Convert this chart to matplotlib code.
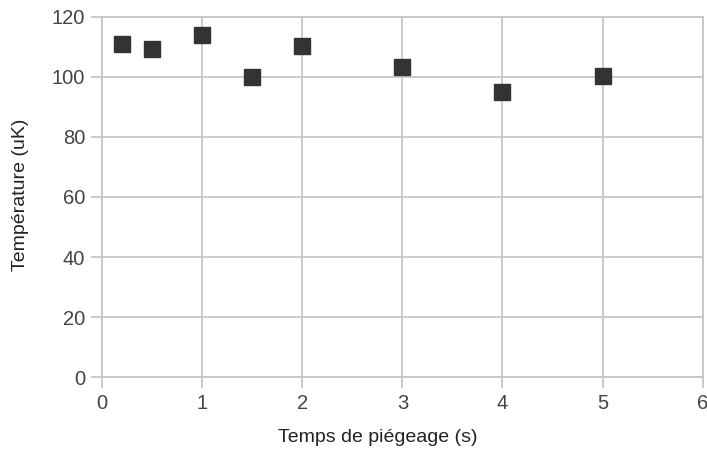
import matplotlib
matplotlib.use("Agg")
import matplotlib.pyplot as plt

plt.rcParams['font.family'] = ['Liberation Sans', 'DejaVu Sans']

temps = [0.2, 0.5, 1.0, 1.5, 2.0, 3.0, 4.0, 5.0]
temperature = [111, 109.3, 113.9, 100, 110.3, 103.3, 95.1, 100.4]
x_ticks = [0, 1, 2, 3, 4, 5, 6]
y_ticks = [0, 20, 40, 60, 80, 100, 120]

grid_c = '#c6c6c6'
fig = plt.figure(figsize=(7.07, 4.49), dpi=100)
ax = fig.add_axes([0.1443, 0.1597, 0.9939 - 0.1443, 0.9628 - 0.1597])
ax.plot(temps, temperature, linestyle='none', marker='s', markersize=11,
        color='#333333', markeredgecolor='#333333', zorder=3, clip_on=False)
ax.set_xlim(0, 6)
ax.set_ylim(0, 120)
ax.set_xticks(x_ticks)
ax.set_yticks(y_ticks)
ax.grid(True, color=grid_c, linewidth=1.3)
for s in ax.spines.values():
    s.set_color(grid_c)
    s.set_linewidth(1.3)
ax.tick_params(axis='both', colors=grid_c, length=8, width=1.3, labelsize=14.5,
               labelcolor='#444444', pad=4)
ax.set_xlabel('Temps de piégeage (s)', fontsize=14, color='#222222', va='center')
ax.set_ylabel('Température (uK)', fontsize=14, color='#222222', va='center')
ax.xaxis.set_label_coords(0.459, -0.168)
ax.yaxis.set_label_coords(-0.136, 0.505)
fig.savefig('out.png', dpi=100)
